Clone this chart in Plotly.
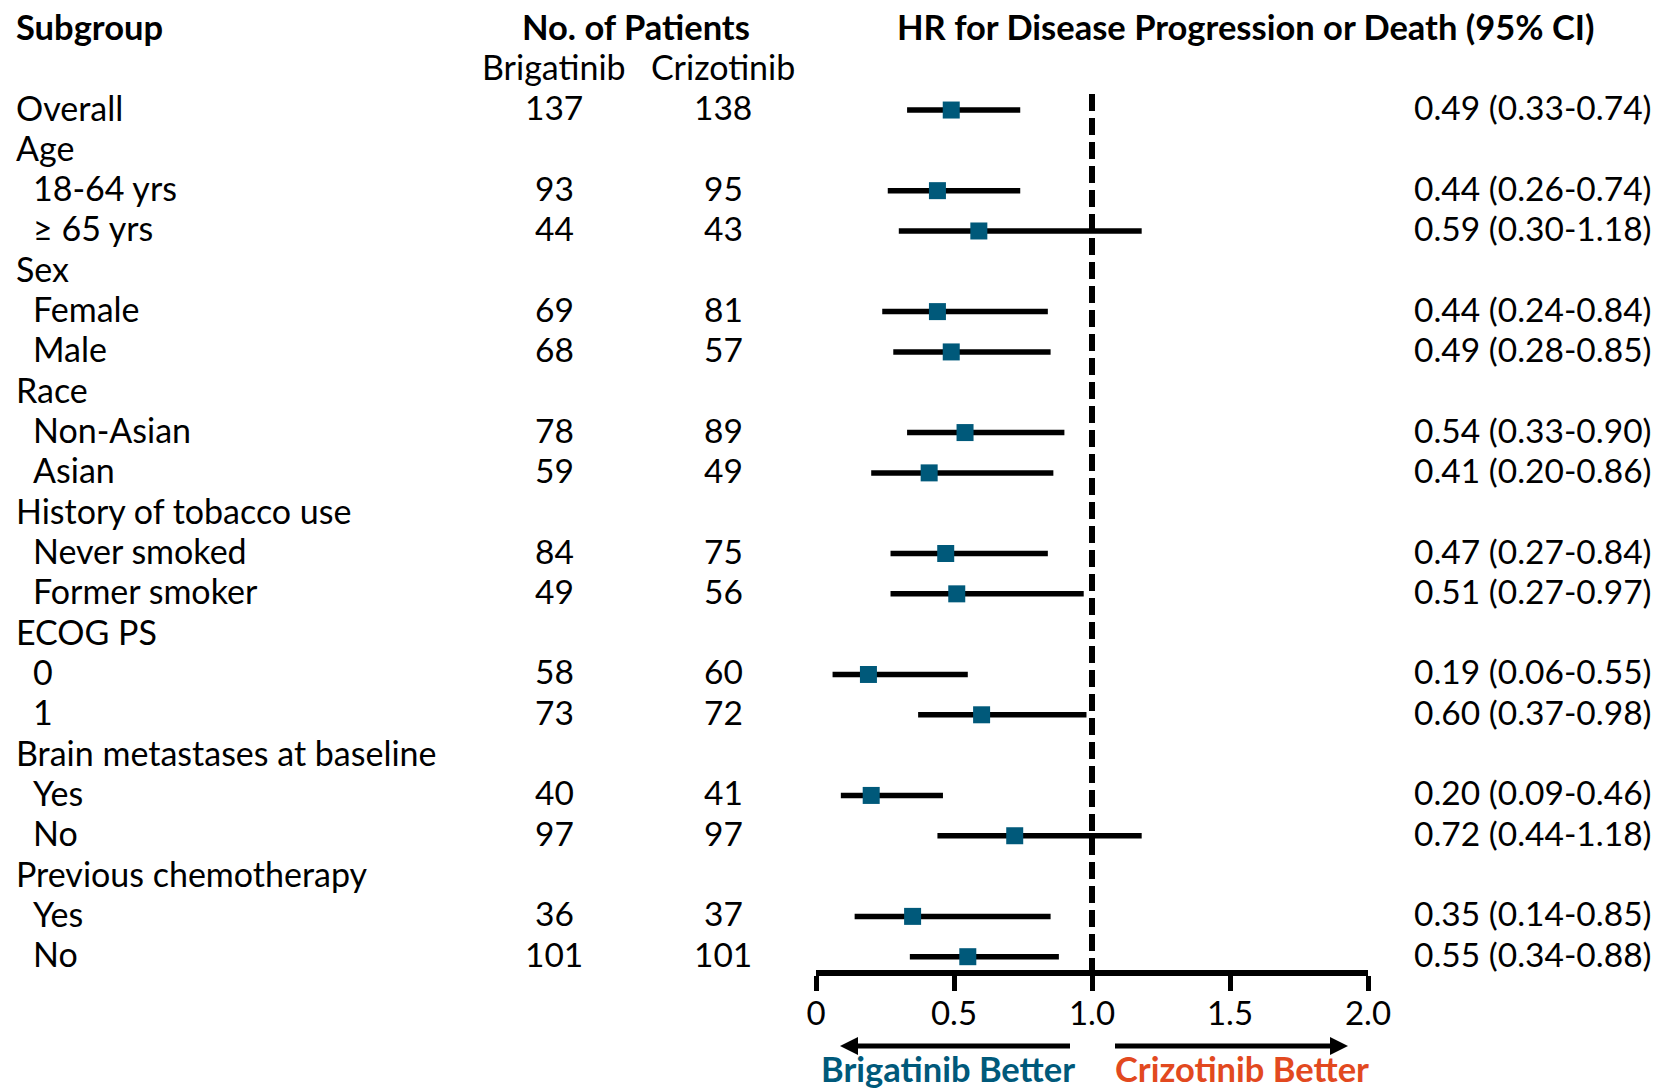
import plotly.graph_objects as go

# ---------------- data ----------------
labels = ["Overall", "Age", "18-64 yrs", "\u2265 65 yrs", "Sex", "Female", "Male",
          "Race", "Non-Asian", "Asian", "History of tobacco use", "Never smoked",
          "Former smoker", "ECOG PS", "0", "1", "Brain metastases at baseline",
          "Yes", "No", "Previous chemotherapy", "Yes", "No"]
is_sub = [False, False, True, True, False, True, True, False, True, True, False,
          True, True, False, True, True, False, True, True, False, True, True]
n_brigatinib = [137, None, 93, 44, None, 69, 68, None, 78, 59, None, 84, 49, None,
                58, 73, None, 40, 97, None, 36, 101]
n_crizotinib = [138, None, 95, 43, None, 81, 57, None, 89, 49, None, 75, 56, None,
                60, 72, None, 41, 97, None, 37, 101]
hr = [0.49, None, 0.44, 0.59, None, 0.44, 0.49, None, 0.54, 0.41, None, 0.47, 0.51,
      None, 0.19, 0.60, None, 0.20, 0.72, None, 0.35, 0.55]
ci_low = [0.33, None, 0.26, 0.30, None, 0.24, 0.28, None, 0.33, 0.20, None, 0.27,
          0.27, None, 0.06, 0.37, None, 0.09, 0.44, None, 0.14, 0.34]
ci_high = [0.74, None, 0.74, 1.18, None, 0.84, 0.85, None, 0.90, 0.86, None, 0.84,
           0.97, None, 0.55, 0.98, None, 0.46, 1.18, None, 0.85, 0.88]
tick_vals = [0, 0.5, 1.0, 1.5, 2.0]
tick_text = ["0", "0.5", "1.0", "1.5", "2.0"]

# ---------------- style ----------------
W, H = 1655, 1091
FONT = "Lato"
FS_LABEL = 34
FS_NUM = 33.5
FS_BOLD = 34.5
FS_TICK = 33
TEAL = "#00597A"
ORANGE = "#E2491F"
ROW_SHIFT = 3


def px(xp):
    return xp / W


def py(yp):
    return (H - yp) / H


rows = list(range(len(labels)))

fig = go.Figure()

# CI lines
xs, ys = [], []
for i in rows:
    if hr[i] is not None:
        xs += [ci_low[i], ci_high[i], None]
        ys += [i, i, None]
fig.add_trace(go.Scatter(x=xs, y=ys, mode="lines",
                         line=dict(color="black", width=5.5),
                         hoverinfo="skip", showlegend=False))

# point estimates
mx = [hr[i] for i in rows if hr[i] is not None]
my = [i for i in rows if hr[i] is not None]
fig.add_trace(go.Scatter(x=mx, y=my, mode="markers",
                         marker=dict(symbol="square", size=17, color=TEAL,
                                     line=dict(width=0)),
                         showlegend=False))

Y_BOTTOM = 21.33
# reference line at HR = 1
fig.add_shape(type="line", xref="x", yref="y", x0=1, x1=1, y0=-0.4, y1=Y_BOTTOM,
              line=dict(color="black", width=6, dash="17px,7px"), layer="above")

# direction arrows (decorations)
ay_ = py(1046)
hh = 9 / H
fig.add_shape(type="line", xref="paper", yref="paper", x0=px(1070), x1=px(852),
              y0=ay_, y1=ay_, line=dict(color="black", width=5))
fig.add_shape(type="path", xref="paper", yref="paper",
              path=f"M {px(840)} {ay_} L {px(858)} {ay_ + hh} L {px(858)} {ay_ - hh} Z",
              fillcolor="black", line=dict(width=0))
fig.add_shape(type="line", xref="paper", yref="paper", x0=px(1115), x1=px(1335),
              y0=ay_, y1=ay_, line=dict(color="black", width=5))
fig.add_shape(type="path", xref="paper", yref="paper",
              path=f"M {px(1348)} {ay_} L {px(1330)} {ay_ + hh} L {px(1330)} {ay_ - hh} Z",
              fillcolor="black", line=dict(width=0))

ann = []
for i in rows:
    xl = 31 if is_sub[i] else 14
    ann.append(dict(x=px(xl), y=i, xref="paper", yref="y", text=labels[i],
                    font=dict(size=FS_LABEL), yshift=ROW_SHIFT,
                    xanchor="left", yanchor="middle", showarrow=False))
    if n_brigatinib[i] is not None:
        ann.append(dict(x=px(554), y=i, xref="paper", yref="y",
                        text=str(n_brigatinib[i]), font=dict(size=FS_NUM),
                        yshift=ROW_SHIFT, xanchor="center",
                        yanchor="middle", showarrow=False))
        ann.append(dict(x=px(723), y=i, xref="paper", yref="y",
                        text=str(n_crizotinib[i]), font=dict(size=FS_NUM),
                        yshift=ROW_SHIFT, xanchor="center",
                        yanchor="middle", showarrow=False))
    if hr[i] is not None:
        ann.append(dict(x=px(1654), y=i, xref="paper", yref="y",
                        text=f"{hr[i]:.2f} ({ci_low[i]:.2f}-{ci_high[i]:.2f})",
                        font=dict(size=FS_NUM), yshift=ROW_SHIFT,
                        xanchor="right", yanchor="middle", showarrow=False))

# headers
ann += [
    dict(x=px(14), y=py(27), xref="paper", yref="paper", text="<b>Subgroup</b>",
         font=dict(size=FS_BOLD), xanchor="left", yanchor="middle", showarrow=False),
    dict(x=px(636), y=py(27), xref="paper", yref="paper", text="<b>No. of Patients</b>",
         font=dict(size=FS_BOLD), xanchor="center", yanchor="middle", showarrow=False),
    dict(x=px(554), y=py(66), xref="paper", yref="paper", text="Brigatinib",
         font=dict(size=FS_LABEL), xanchor="center", yanchor="middle", showarrow=False),
    dict(x=px(723), y=py(66), xref="paper", yref="paper", text="Crizotinib",
         font=dict(size=FS_LABEL), xanchor="center", yanchor="middle", showarrow=False),
    dict(x=px(1245), y=py(27), xref="paper", yref="paper",
         text="<b>HR for Disease Progression or Death (95% CI)</b>",
         font=dict(size=FS_BOLD), xanchor="center", yanchor="middle", showarrow=False),
    dict(x=px(948), y=py(1068), xref="paper", yref="paper",
         text="<b>Brigatinib Better</b>", font=dict(color=TEAL, size=FS_BOLD),
         xanchor="center", yanchor="middle", showarrow=False),
    dict(x=px(1242), y=py(1068), xref="paper", yref="paper",
         text="<b>Crizotinib Better</b>", font=dict(color=ORANGE, size=FS_BOLD),
         xanchor="center", yanchor="middle", showarrow=False),
]

fig.update_layout(
    width=W, height=H, autosize=False,
    margin=dict(l=0, r=0, t=0, b=0, pad=0, autoexpand=False),
    paper_bgcolor="white", plot_bgcolor="white",
    font=dict(family=FONT, size=FS_LABEL, color="black"),
    annotations=ann,
    xaxis=dict(domain=[px(816), px(1368)], range=[0, 2], showgrid=False,
               zeroline=False, showline=True, linecolor="black", linewidth=6,
               ticks="outside", ticklen=15, tickwidth=5, tickcolor="black",
               tickvals=tick_vals, ticktext=tick_text, automargin=False,
               ticklabelstandoff=-6,
               tickfont=dict(family=FONT, size=FS_TICK, color="black"), fixedrange=True),
    yaxis=dict(domain=[py(970), py(93.9)], range=[Y_BOTTOM, -0.4], visible=False,
               automargin=False, fixedrange=True),
)

fig.write_html("out.html",
               config={"displayModeBar": False, "responsive": False},
               post_script="document.body.style.margin='0';document.body.style.overflow='hidden';")
